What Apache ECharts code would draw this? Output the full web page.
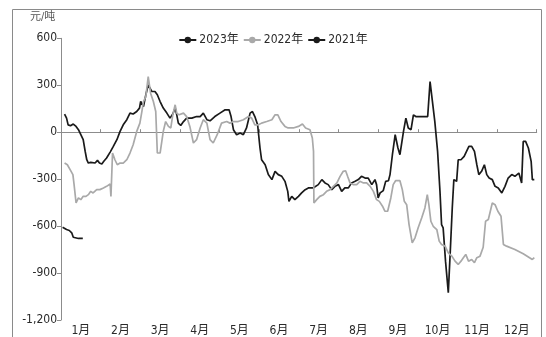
<!DOCTYPE html>
<html>
<head>
<meta charset="utf-8">
<script src="https://cdn.jsdelivr.net/npm/echarts@6/dist/echarts.min.js"></script>
<style>
  html, body { margin: 0; padding: 0; background: #fff; }
  #chart { width: 546px; height: 337px; }
</style>
</head>
<body>
<div id="chart"></div>
<script>
// Month labels along the bottom axis
const months = ['1月', '2月', '3月', '4月', '5月', '6月', '7月', '8月', '9月', '10月', '11月', '12月'];
// Left axis ticks (元/吨)
const yTicks = [-1200, -900, -600, -300, 0, 300, 600];

// Positions are in months from 1 Jan (0 = 1月 start, 12 = 12月 end)
const x2023 = [0.09, 0.14, 0.18, 0.24, 0.31, 0.38, 0.44, 0.50, 0.56, 0.61, 0.65, 0.69, 0.75, 0.80, 0.86, 0.92, 0.97,
  1.03, 1.08, 1.15, 1.24, 1.32, 1.41, 1.49, 1.57, 1.66, 1.74, 1.82, 1.91, 1.98,
  2.01, 2.08, 2.14, 2.20, 2.29, 2.37, 2.43, 2.50, 2.58, 2.67, 2.75, 2.82, 2.88, 2.92, 2.96,
  3.02, 3.09, 3.17, 3.30, 3.42, 3.51, 3.59, 3.68, 3.76, 3.88,
  4.01, 4.14, 4.24, 4.29, 4.35, 4.43, 4.52, 4.60, 4.68, 4.77, 4.83, 4.89, 4.96,
  5.02, 5.06, 5.15, 5.23, 5.32, 5.40, 5.48, 5.57, 5.65, 5.72, 5.75, 5.82, 5.90, 5.99,
  6.07, 6.16, 6.24, 6.36, 6.49, 6.58, 6.66, 6.74, 6.83, 6.91,
  7.00, 7.08, 7.16, 7.25, 7.33, 7.42, 7.50, 7.58, 7.67, 7.75, 7.84, 7.92, 7.96,
  8.00, 8.05, 8.13, 8.19, 8.26, 8.30, 8.36, 8.43, 8.50, 8.55, 8.64, 8.70, 8.76, 8.83, 8.89, 8.95,
  9.10, 9.25, 9.31, 9.37, 9.43, 9.50, 9.56, 9.60, 9.64, 9.70, 9.77, 9.82, 9.87, 9.91, 9.98,
  10.02, 10.09, 10.17, 10.23, 10.29, 10.36, 10.43, 10.49, 10.54, 10.61, 10.68, 10.74, 10.80, 10.88, 10.95,
  11.03, 11.12, 11.20, 11.28, 11.37, 11.45, 11.55, 11.60, 11.62, 11.66, 11.72, 11.79, 11.86, 11.89, 11.94];
const y2023 = [116, 90, 47, 41, 52, 37, 16, -16, -48, -123, -176, -197, -193, -186, -197, -180, -197,
  -203, -186, -165, -127, -91, -48, 5, 47, 80, 122, 116, 132, 154,
  196, 164, 239, 302, 260, 260, 239, 196, 154, 122, 90, 116, 154, 111, 58,
  43, 68, 90, 90, 100, 100, 122, 80, 73, 100,
  122, 143, 143, 100, 16, -16, -5, -16, 27, 122, 132, 100, 47,
  -101, -176, -208, -271, -303, -250, -271, -282, -314, -378, -442, -410, -431, -410,
  -388, -367, -356, -356, -335, -303, -324, -335, -367, -346,
  -335, -378, -356, -356, -324, -314, -303, -282, -293, -293, -335, -303, -335,
  -420, -388, -373, -314, -310, -271, -144, -16, -101, -144, 5, 90, 27, 16, 111, 100,
  100, 100, 323, 196, 68, -123, -378, -590, -611, -824, -1025, -760, -484, -303, -314,
  -176, -176, -155, -123, -91, -91, -123, -208, -271, -250, -208, -271, -293, -303, -346,
  -356, -388, -346, -293, -271, -282, -261, -271, -324, -59, -59, -101, -186, -303, -303];

const x2022 = [0.09, 0.16, 0.23, 0.30, 0.33, 0.38, 0.44, 0.50, 0.56, 0.63, 0.69, 0.75, 0.81, 0.90, 0.98,
  1.07, 1.15, 1.24, 1.26, 1.30, 1.36, 1.42, 1.49, 1.57, 1.66, 1.74, 1.82, 1.91, 1.99,
  2.04, 2.08, 2.14, 2.20, 2.26, 2.33, 2.39, 2.43, 2.50, 2.58, 2.64, 2.71, 2.77, 2.82, 2.88, 2.92, 2.98,
  3.09, 3.17, 3.25, 3.34, 3.42, 3.51, 3.59, 3.68, 3.76, 3.84, 3.88, 3.94,
  4.05, 4.18, 4.26, 4.35, 4.47, 4.60, 4.73, 4.81, 4.89, 4.98,
  5.06, 5.19, 5.32, 5.40, 5.47, 5.55, 5.65, 5.73, 5.86, 5.99,
  6.09, 6.17, 6.28, 6.34, 6.37, 6.38, 6.45, 6.53, 6.62, 6.70, 6.79, 6.87, 6.96,
  7.04, 7.12, 7.18, 7.23, 7.29, 7.37, 7.46, 7.54, 7.63, 7.71, 7.80, 7.88, 7.96,
  8.03, 8.11, 8.17, 8.24, 8.32, 8.38, 8.44, 8.55, 8.61, 8.66, 8.72, 8.78, 8.86, 8.93,
  9.01, 9.10, 9.18, 9.24, 9.28, 9.33, 9.39, 9.48, 9.54, 9.60, 9.69, 9.77, 9.86, 9.94,
  10.02, 10.09, 10.15, 10.21, 10.28, 10.36, 10.43, 10.49, 10.57, 10.65, 10.71, 10.78, 10.83, 10.88, 10.95,
  11.02, 11.10, 11.16, 11.24, 11.45, 11.66, 11.89, 11.94];
const y2022 = [-197, -208, -239, -271, -335, -452, -420, -431, -410, -410, -399, -378, -388, -367, -367,
  -356, -346, -331, -410, -133, -176, -208, -197, -197, -176, -133, -80, 5, 58,
  132, 196, 228, 355, 249, 196, 132, -133, -133, 5, 68, 37, 27, 111, 175, 122, 111,
  122, 100, 37, -69, -48, 27, 80, 58, -48, -69, -69, -16,
  58, 68, 58, 68, 68, 80, 100, 90, 47, 47,
  58, 68, 80, 111, 111, 68, 37, 27, 27, 37,
  52, 27, 16, -37, -123, -452, -431, -410, -399, -378, -367, -346, -324,
  -282, -250, -246, -282, -324, -335, -335, -314, -324, -324, -346, -378, -431,
  -442, -473, -505, -505, -420, -335, -310, -310, -367, -442, -463, -590, -707, -675,
  -611, -547, -484, -399, -463, -569, -601, -622, -696, -717, -728, -771, -792, -824,
  -845, -824, -802, -781, -824, -813, -834, -802, -792, -735, -569, -558, -505, -452, -463,
  -505, -537, -717, -728, -749, -777, -813, -802];

const x2021 = [0.04, 0.09, 0.14, 0.21, 0.27, 0.31, 0.35, 0.44, 0.55];
const y2021 = [-608, -611, -622, -628, -643, -671, -679, -679, -679];

const zip = (xs, ys) => xs.map((x, i) => [x, ys[i]]);
const FONT = "'Liberation Sans Narrow', 'DejaVu Sans Condensed', 'Noto Sans CJK SC', sans-serif";
const AXIS_GREY = '#8c8c8c';
const TEXT = '#2a2a2a';

const chart = echarts.init(document.getElementById('chart'), null, { renderer: 'canvas' });

function lineSeries(name, data, color, width) {
  return {
    name: name,
    type: 'line',
    xAxisIndex: 1,
    data: data,
    symbol: 'circle',
    symbolSize: 7,
    showSymbol: false,
    smooth: false,
    animation: false,
    itemStyle: { color: color },
    lineStyle: { color: color, width: width },
    emphasis: { disabled: true }
  };
}

chart.setOption({
  animation: false,
  textStyle: { fontFamily: FONT },
  grid: { left: 61, right: 9.3, top: 38.3, bottom: 16.3, containLabel: false },
  legend: {
    top: 29,
    left: 'center',
    itemWidth: 17,
    itemHeight: 8,
    itemGap: 4,
    textStyle: { fontFamily: FONT, fontSize: 12, color: TEXT, padding: [0, 0, 0, -2] },
    data: ['2023年', '2022年', '2021年']
  },
  graphic: [
    {
      type: 'rect',
      shape: { x: 12.5, y: 9.5, width: 529, height: 340 },
      style: { fill: 'none', stroke: '#8a8a8a', lineWidth: 1 },
      silent: true
    },
    {
      type: 'text',
      left: 30, top: 12,
      style: { text: '元/吨', fontSize: 11, fill: '#555', fontFamily: FONT }
    }
  ],
  xAxis: [
    {
      type: 'category',
      data: months,
      boundaryGap: true,
      axisLine: { lineStyle: { color: AXIS_GREY, width: 1 } },
      axisTick: { show: true, inside: true, length: 3, lineStyle: { color: AXIS_GREY } },
      axisLabel: { fontSize: 12, color: TEXT, margin: 5, fontFamily: FONT },
      splitLine: { show: false }
    },
    {
      type: 'value',
      min: 0,
      max: 12,
      show: false,
      splitLine: { show: false }
    }
  ],
  yAxis: {
    type: 'value',
    min: yTicks[0],
    max: yTicks[yTicks.length - 1],
    interval: 300,
    axisLine: { show: true, lineStyle: { color: AXIS_GREY, width: 1 } },
    axisTick: { show: true, length: 4, lineStyle: { color: AXIS_GREY } },
    axisLabel: {
      fontSize: 12,
      color: TEXT,
      margin: 4,
      fontFamily: FONT,
      formatter: v => v.toLocaleString('en-US')
    },
    splitLine: { show: false }
  },
  series: [
    lineSeries('2023年', zip(x2023, y2023), '#1a1a1a', 1.7),
    lineSeries('2022年', zip(x2022, y2022), '#a9a9a9', 1.7),
    lineSeries('2021年', zip(x2021, y2021), '#1a1a1a', 1.7)
  ]
});
</script>
</body>
</html>
